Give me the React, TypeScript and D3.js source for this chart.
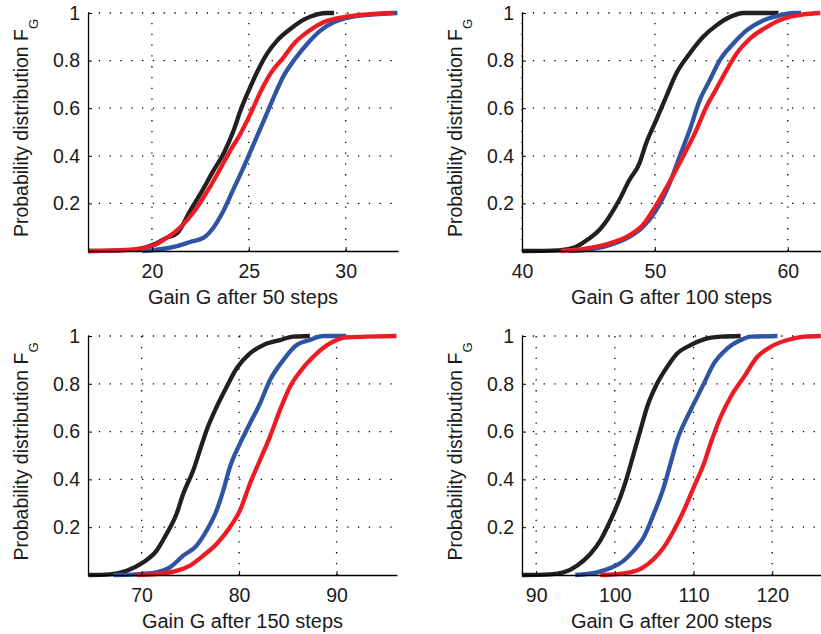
import { useEffect, useRef } from 'react';
import * as d3 from 'd3';

// ECDF curves, as [gain, F] pairs
const steps50Black = [
  [16.7, 0], [19.05, 0.005], [20, 0.024], [20.78, 0.056], [21.3, 0.075], [21.98, 0.17],
  [22.5, 0.24], [23.19, 0.34], [23.7, 0.41], [24.22, 0.507], [24.57, 0.59], [25.0, 0.675],
  [25.43, 0.752], [25.95, 0.83], [26.47, 0.885], [27.16, 0.934], [27.84, 0.972],
  [28.53, 0.994], [29.05, 1], [29.4, 1],
];
const steps50Blue = [
  [19.5, 0], [20, 0.003], [21.12, 0.017], [21.98, 0.038], [22.67, 0.056], [23.19, 0.1],
  [23.7, 0.17], [24.22, 0.262], [24.74, 0.353], [25.26, 0.451], [25.78, 0.549],
  [26.29, 0.647], [26.81, 0.738], [27.33, 0.801], [28.02, 0.871], [28.71, 0.927],
  [29.4, 0.962], [30.26, 0.983], [31.47, 0.994], [32.67, 1],
];
const steps50Red = [
  [16.7, 0], [18.7, 0.005], [20, 0.021], [20.78, 0.056], [21.47, 0.1], [22.16, 0.164],
  [22.84, 0.248], [23.53, 0.346], [24.05, 0.423], [24.57, 0.493], [25.09, 0.577],
  [25.6, 0.668], [26.12, 0.745], [26.81, 0.815], [27.33, 0.871], [28.02, 0.92],
  [28.88, 0.962], [29.91, 0.983], [31.12, 0.994], [32.5, 1],
];

const steps100Black = [
  [40, 0], [42.77, 0.003], [44.04, 0.017], [45.04, 0.052], [45.8, 0.087], [46.56, 0.143],
  [47.31, 0.213], [48.07, 0.297], [48.83, 0.367], [49.33, 0.451], [50.09, 0.549],
  [50.84, 0.647], [51.6, 0.745], [52.61, 0.829], [53.62, 0.899], [54.63, 0.948],
  [55.64, 0.983], [56.65, 1], [59.3, 1],
];
const steps100Blue = [
  [43.5, 0], [44.54, 0.003], [46.56, 0.024], [48.07, 0.059], [49.08, 0.1], [50.09, 0.171],
  [51.1, 0.283], [51.85, 0.395], [52.61, 0.507], [53.37, 0.633], [54.12, 0.717],
  [54.88, 0.801], [55.89, 0.871], [56.9, 0.927], [58.16, 0.969], [59.42, 0.99],
  [60.43, 1], [61, 1],
];
const steps100Red = [
  [42.9, 0], [44.79, 0.01], [46.56, 0.031], [48.07, 0.066], [49.08, 0.108], [50.09, 0.192],
  [51.1, 0.29], [52.1, 0.395], [53.11, 0.507], [53.87, 0.605], [54.63, 0.682],
  [55.39, 0.759], [56.14, 0.829], [57.15, 0.892], [58.41, 0.941], [59.67, 0.976],
  [61.19, 0.994], [62.45, 1],
];

const steps150Black = [
  [64.53, 0], [66.75, 0.003], [68.46, 0.018], [70.17, 0.053], [71.54, 0.102], [72.56, 0.172],
  [73.59, 0.256], [74.27, 0.34], [75.3, 0.438], [75.98, 0.522], [76.67, 0.606],
  [77.69, 0.703], [78.72, 0.787], [79.74, 0.864], [81.11, 0.927], [82.48, 0.962],
  [84.19, 0.983], [85.56, 0.997], [87.26, 1],
];
const steps150Blue = [
  [67.1, 0], [69.5, 0.003], [71.54, 0.011], [72.9, 0.032], [74.27, 0.081], [75.64, 0.123],
  [76.67, 0.186], [77.69, 0.27], [78.38, 0.354], [79.06, 0.452], [80.09, 0.55],
  [81.11, 0.634], [82.14, 0.717], [83.16, 0.815], [84.53, 0.899], [85.9, 0.962],
  [87.26, 0.983], [88.63, 1], [91, 1],
];
const steps150Red = [
  [69.5, 0], [71.54, 0.004], [73.25, 0.014], [74.96, 0.039], [76.32, 0.081], [77.69, 0.13],
  [79.06, 0.2], [80.09, 0.27], [81.11, 0.382], [82.14, 0.48], [83.16, 0.578],
  [84.19, 0.69], [85.21, 0.787], [86.24, 0.85], [87.61, 0.913], [89.32, 0.969],
  [91.03, 0.994], [93.08, 0.997], [96.15, 1],
];

const steps200Black = [
  [88.17, 0], [91.78, 0.003], [93.48, 0.011], [95.18, 0.039], [96.88, 0.088], [98.15, 0.144],
  [99.43, 0.228], [100.7, 0.326], [101.55, 0.41], [102.4, 0.508], [103.25, 0.606],
  [104.1, 0.703], [105.37, 0.801], [106.65, 0.871], [107.92, 0.927], [109.62, 0.962],
  [111.32, 0.986], [113.44, 0.997], [115.99, 1],
];
const steps200Blue = [
  [94.97, 0], [97.73, 0.011], [99.43, 0.029], [101.13, 0.06], [102.4, 0.102], [103.67, 0.158],
  [104.95, 0.256], [106.22, 0.368], [107.07, 0.466], [107.92, 0.564], [109.19, 0.661],
  [110.04, 0.717], [111.32, 0.801], [112.59, 0.885], [114.29, 0.948], [115.99, 0.983],
  [117.26, 0.997], [120.66, 1],
];
const steps200Red = [
  [98.15, 0], [101.13, 0.007], [103.25, 0.025], [104.95, 0.067], [106.22, 0.116],
  [107.5, 0.186], [108.77, 0.27], [110.04, 0.368], [111.32, 0.466], [112.17, 0.55],
  [113.44, 0.661], [114.71, 0.745], [116.41, 0.829], [118.11, 0.913], [119.81, 0.955],
  [121.93, 0.983], [124.06, 0.997], [126.18, 1],
];

const stepCounts = [50, 100, 150, 200];
const xDomains = [[16.7, 32.7], [40, 62.5], [64.5, 96.2], [88.2, 126.2]];
const xTickValues = [[20, 25, 30], [40, 50, 60], [70, 80, 90], [90, 100, 110, 120]];
const yTickValues = [0.2, 0.4, 0.6, 0.8, 1];
const seriesByPanel = [
  [steps50Black, steps50Blue, steps50Red],
  [steps100Black, steps100Blue, steps100Red],
  [steps150Black, steps150Blue, steps150Red],
  [steps200Black, steps200Blue, steps200Red],
];
const colors = ['#231f20', '#2e54a3', '#ed1c24'];

const W = 821;
const H = 634;
const FONT = 'Liberation Sans, Arial, sans-serif';
const TEXT = '#1a1a1a';

// plot boxes [left, right, top, bottom]
const boxes = [
  [88, 398, 13, 251],
  [522, 821, 13, 251],
  [88, 397, 336, 575],
  [522, 821, 336, 575],
];

function App() {
  const svgRef = useRef(null);

  useEffect(() => {
    const svg = d3.select(svgRef.current);
    svg.selectAll('*').remove();

    boxes.forEach(([left, right, top, bottom], i) => {
      const x = d3.scaleLinear().domain(xDomains[i]).range([left, right]);
      const y = d3.scaleLinear().domain([0, 1]).range([bottom, top]);
      const g = svg.append('g');

      // dotted grid
      g.selectAll('.vgrid')
        .data(xTickValues[i])
        .enter()
        .append('line')
        .attr('x1', (d) => x(d))
        .attr('x2', (d) => x(d))
        .attr('y1', bottom)
        .attr('y2', top)
        .attr('stroke', '#000')
        .attr('stroke-width', 1.3)
        .attr('stroke-dasharray', '1.3 9.5');
      g.selectAll('.hgrid')
        .data(yTickValues)
        .enter()
        .append('line')
        .attr('x1', left)
        .attr('x2', right)
        .attr('y1', (d) => y(d))
        .attr('y2', (d) => y(d))
        .attr('stroke', '#000')
        .attr('stroke-width', 1.3)
        .attr('stroke-dasharray', '1.3 9.5');

      // curves
      const line = d3
        .line()
        .curve(d3.curveMonotoneX)
        .x((d) => x(d[0]))
        .y((d) => y(d[1]));
      seriesByPanel[i].forEach((data, k) => {
        g.append('path')
          .datum(data)
          .attr('d', line)
          .attr('fill', 'none')
          .attr('stroke', colors[k])
          .attr('stroke-width', 4.3)
          .attr('stroke-linejoin', 'round');
      });

      // axes (left and bottom only)
      const xAxis = g
        .append('g')
        .attr('transform', `translate(0,${bottom})`)
        .call(d3.axisBottom(x).tickValues(xTickValues[i]).tickSize(-4).tickPadding(13).tickSizeOuter(0));
      const yAxis = g
        .append('g')
        .attr('transform', `translate(${left},0)`)
        .call(
          d3
            .axisLeft(y)
            .tickValues(yTickValues)
            .tickSize(-4)
            .tickPadding(8)
            .tickSizeOuter(0)
            .tickFormat((d) => String(d))
        );
      [xAxis, yAxis].forEach((ax) => {
        ax.select('.domain').attr('stroke', '#000').attr('stroke-width', 1.3);
        ax.selectAll('.tick line').attr('stroke', '#000');
        ax.selectAll('text')
          .attr('font-family', FONT)
          .attr('font-size', 19.5)
          .attr('fill', TEXT);
      });

      // labels
      g.append('text')
        .attr('x', (left + right) / 2)
        .attr('y', bottom + 53)
        .attr('text-anchor', 'middle')
        .attr('font-family', FONT)
        .attr('font-size', 20)
        .attr('fill', TEXT)
        .text(`Gain G after ${stepCounts[i]} steps`);

      const yl = g
        .append('text')
        .attr('transform', `translate(${left - 60},${(top + bottom) / 2 - 4}) rotate(-90)`)
        .attr('text-anchor', 'middle')
        .attr('font-family', FONT)
        .attr('font-size', 19.5)
        .attr('fill', TEXT);
      yl.append('tspan').text('Probability distribution F');
      yl.append('tspan').attr('font-size', 13).attr('dy', 10).text('G');
    });
  }, []);

  return (
    <div style={{ position: 'absolute', left: 0, top: 0 }}>
      <svg ref={svgRef} width={W} height={H} style={{ display: 'block', background: '#fff' }} />
    </div>
  );
}

export default App;
